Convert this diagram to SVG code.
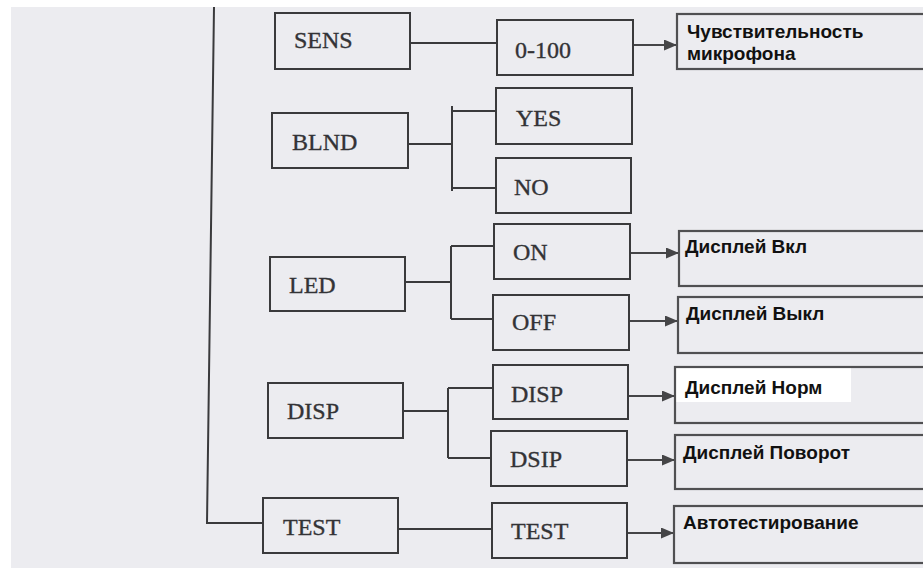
<svg xmlns="http://www.w3.org/2000/svg" width="923" height="568" viewBox="0 0 923 568">
<defs>
<style>
.box{fill:none;stroke:#3a3a3c;stroke-width:2}
.rbox{fill:none;stroke:#505052;stroke-width:2.2}
.lbl{font-family:"Liberation Serif","Times New Roman",serif;font-size:24px;fill:#333336;stroke:#333336;stroke-width:0.35}
.rl{font-family:"Liberation Sans",Arial,sans-serif;font-weight:bold;font-size:19px;fill:#111}
.ln{fill:none;stroke:#3a3a3c;stroke-width:2}
.ar{fill:none;stroke:#454547;stroke-width:2;marker-end:url(#ah)}
</style>
<marker id="ah" viewBox="0 0 13 11" refX="13" refY="5.5" markerWidth="13" markerHeight="11" markerUnits="userSpaceOnUse" orient="auto">
<path d="M0,0 L13,5.5 L0,11 Z" fill="#454547"/>
</marker>
</defs>
<rect x="0" y="0" width="923" height="568" fill="#ffffff"/>
<rect x="11" y="7" width="912" height="561" fill="#ececf0"/>
<rect x="676" y="368" width="175" height="34" fill="#ffffff"/>
<g id="connectors">
<path class="ln" d="M214,7 L207,523 L263,523"/>
<path class="ln" d="M410,43 L497,43"/>
<path class="ln" d="M408,144 L452,144 M452,106 L452,191 M452,111 L496,111 M452,188 L496,188"/>
<path class="ln" d="M405,282 L451,282 M451,246 L451,319 M451,246 L494,246 M451,319 L493,319"/>
<path class="ln" d="M403,411 L448,411 M448,388 L448,458 M448,388 L492,388 M448,458 L491,458"/>
<path class="ln" d="M398,529 L492,529"/>
<path class="ar" d="M633,45 L677,45"/>
<path class="ar" d="M630,253 L679,253"/>
<path class="ar" d="M629,321 L678,321"/>
<path class="ar" d="M628,396 L675,396"/>
<path class="ar" d="M627,460 L675,460"/>
<path class="ar" d="M627,533 L674,533"/>
</g>
<g id="sens"><rect class="box" x="275" y="13" width="135" height="56"/><text class="lbl" x="294" y="48">SENS</text></g>
<g id="blnd"><rect class="box" x="272" y="113" width="136" height="55"/><text class="lbl" x="292" y="150">BLND</text></g>
<g id="led"><rect class="box" x="270" y="257" width="135" height="54"/><text class="lbl" x="289" y="293">LED</text></g>
<g id="disp"><rect class="box" x="268" y="383" width="135" height="55"/><text class="lbl" x="287" y="419">DISP</text></g>
<g id="test"><rect class="box" x="263" y="498" width="135" height="55"/><text class="lbl" x="283" y="535">TEST</text></g>
<g id="v0-100"><rect class="box" x="497" y="20" width="136" height="55"/><text class="lbl" x="515" y="58">0-100</text></g>
<g id="yes"><rect class="box" x="496" y="88" width="136" height="56"/><text class="lbl" x="516" y="126">YES</text></g>
<g id="no"><rect class="box" x="496" y="158" width="135" height="55"/><text class="lbl" x="514" y="195">NO</text></g>
<g id="on"><rect class="box" x="494" y="224" width="136" height="55"/><text class="lbl" x="513" y="260">ON</text></g>
<g id="off"><rect class="box" x="493" y="295" width="136" height="55"/><text class="lbl" x="512" y="330">OFF</text></g>
<g id="disp2"><rect class="box" x="493" y="365" width="135" height="54"/><text class="lbl" x="511" y="402">DISP</text></g>
<g id="dsip"><rect class="box" x="491" y="431" width="136" height="55"/><text class="lbl" x="510" y="467">DSIP</text></g>
<g id="test2"><rect class="box" x="492" y="503" width="135" height="55"/><text class="lbl" x="511" y="539">TEST</text></g>
<g id="r-sens"><rect class="rbox" x="677" y="14" width="270" height="55"/><text class="rl" x="687" y="38">Чувствительность</text><text class="rl" x="687" y="60">микрофона</text></g>
<g id="r-on"><rect class="rbox" x="679" y="231" width="270" height="55"/><text class="rl" x="685" y="253">Дисплей Вкл</text></g>
<g id="r-off"><rect class="rbox" x="678" y="297" width="270" height="56"/><text class="rl" x="686" y="320">Дисплей Выкл</text></g>
<g id="r-norm"><rect class="rbox" x="675" y="367" width="270" height="56"/><text class="rl" x="685" y="394">Дисплей Норм</text></g>
<g id="r-rot"><rect class="rbox" x="675" y="435" width="270" height="54"/><text class="rl" x="683" y="459">Дисплей Поворот</text></g>
<g id="r-test"><rect class="rbox" x="674" y="506" width="270" height="57"/><text class="rl" x="683" y="529">Автотестирование</text></g>
</svg>
